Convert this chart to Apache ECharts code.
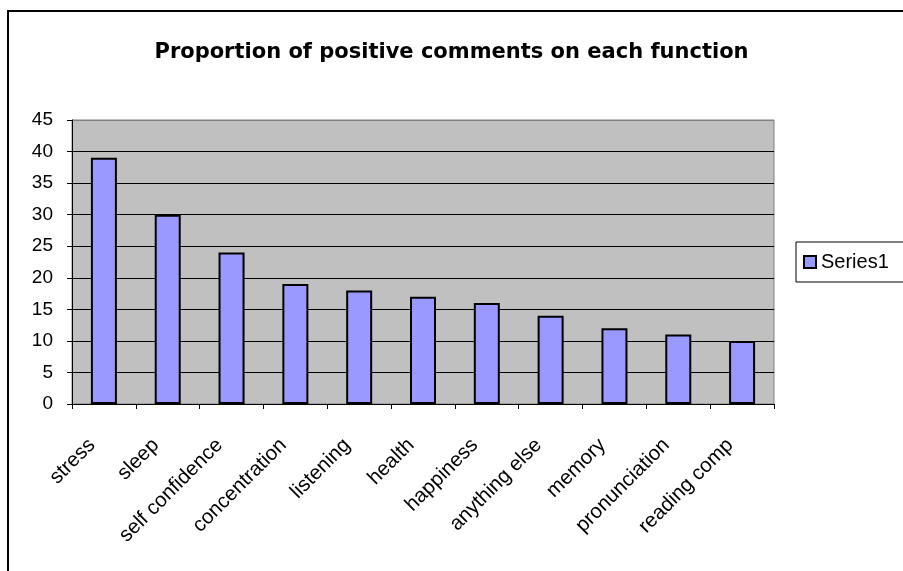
<!DOCTYPE html>
<html>
<head>
<meta charset="utf-8">
<style>
  html, body { margin: 0; padding: 0; background: #fff; overflow: hidden; }
  #chart { width: 903px; height: 571px; }
</style>
<script src="https://cdn.jsdelivr.net/npm/echarts@6/dist/echarts.min.js"></script>
</head>
<body>
<div id="chart"></div>
<script>
// 数据
var categories = ['stress', 'sleep', 'self confidence', 'concentration', 'listening', 'health',
                  'happiness', 'anything else', 'memory', 'pronunciation', 'reading comp'];
var series1 = [39, 30, 24, 19, 18, 17, 16, 14, 12, 11, 10];
var yTicks = { min: 0, max: 45, interval: 5 };

var chart = echarts.init(document.getElementById('chart'));
var font = '"Liberation Sans", Arial, sans-serif';

// 网格线：最上面一条（45）用灰色，其余黑色
var gridColors = [];
for (var i = yTicks.min; i < yTicks.max; i += yTicks.interval) gridColors.push('#000');
gridColors.push('#808080');

var option = {
    animation: false,
    backgroundColor: '#ffffff',
    textStyle: { fontFamily: font },
    // 外框（右、下边超出画面）
    graphic: [{
        type: 'rect',
        shape: { x: 8, y: 11, width: 1000, height: 700 },
        style: { fill: 'none', stroke: '#000', lineWidth: 2 },
        silent: true
    }],
    title: {
        text: 'Proportion of positive comments on each function',
        left: 'center',
        top: 37,
        textStyle: { fontFamily: '"DejaVu Sans", sans-serif', fontSize: 21, fontWeight: 'bold', color: '#000' }
    },
    legend: {
        data: ['Series1'],
        orient: 'vertical',
        left: 796,
        top: 242,
        padding: [10, 30, 10, 7],
        borderColor: '#000',
        borderWidth: 1,
        icon: 'rect',
        itemWidth: 12,
        itemHeight: 12,
        itemGap: 5,
        textStyle: { fontFamily: font, fontSize: 20, color: '#000' }
    },
    grid: {
        left: 72, right: 129, top: 120, bottom: 167,
        show: true,
        backgroundColor: '#c0c0c0',
        borderColor: '#808080',
        borderWidth: 1
    },
    xAxis: {
        type: 'category',
        data: categories,
        boundaryGap: true,
        axisLine: { lineStyle: { color: '#000', width: 1 } },
        axisTick: { show: true, length: 5, lineStyle: { color: '#000' } },
        axisLabel: {
            rotate: 45, fontSize: 20.5, color: '#000', margin: 26, interval: 0, fontFamily: font,
            padding: [0, 17, 0, 0]
        }
    },
    yAxis: {
        type: 'value',
        min: yTicks.min,
        max: yTicks.max,
        interval: yTicks.interval,
        axisLine: { show: true, lineStyle: { color: '#000', width: 1 } },
        axisTick: { show: true, length: 5, lineStyle: { color: '#000' } },
        axisLabel: { fontSize: 19, color: '#000', margin: 19, fontFamily: font },
        splitLine: { show: true, lineStyle: { color: gridColors, width: 1 } }
    },
    series: [{
        name: 'Series1',
        type: 'bar',
        data: series1,
        barWidth: 26,
        itemStyle: { color: '#9999ff', borderColor: '#000', borderWidth: 2 }
    }]
};

chart.setOption(option);
</script>
</body>
</html>
